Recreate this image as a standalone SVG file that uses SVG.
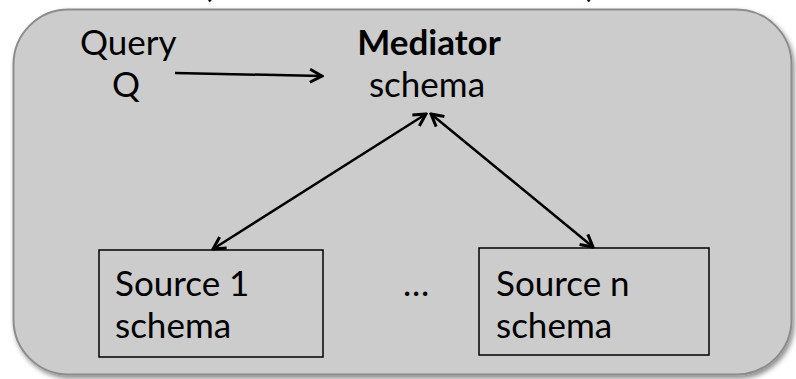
<svg xmlns="http://www.w3.org/2000/svg" width="796" height="379" viewBox="0 0 796 379">
<style>
text{font-family:"Lato","Liberation Sans",sans-serif;font-size:35px;fill:#000}
.b{font-weight:bold}
.box{fill:none;stroke:#000;stroke-width:1.5}
.con{fill:none;stroke:#000;stroke-width:2.5}
</style>
<defs>
<filter id="sh" x="-5%" y="-5%" width="110%" height="115%">
<feDropShadow dx="2" dy="3" stdDeviation="2.5" flood-color="#000" flood-opacity="0.45"/>
</filter>
<marker id="ah" viewBox="0 0 16 16" refX="14" refY="8" markerWidth="16" markerHeight="16" markerUnits="userSpaceOnUse" orient="auto-start-reverse">
<path d="M2,1.5 L14,8 L2,14.5" fill="none" stroke="#000" stroke-width="3" stroke-linejoin="miter"/>
</marker>
</defs>
<text x="203" y="-3">(</text>
<text x="586" y="-3">)</text>
<g id="container">
<rect x="13.5" y="9.5" width="778" height="365" rx="55" ry="55" fill="#cccccc" stroke="#8c8c8c" stroke-width="2" filter="url(#sh)"/>
</g>
<g id="query">
<text x="80" y="55">Query</text>
<text x="126" y="97" text-anchor="middle">Q</text>
</g>
<g id="mediator">
<text x="429" y="55" text-anchor="middle" class="b">Mediator</text>
<text x="427" y="97" text-anchor="middle">schema</text>
</g>
<g id="source1">
<rect class="box" x="99" y="250" width="224" height="107"/>
<text x="115" y="296">Source 1</text>
<text x="115" y="338">schema</text>
</g>
<g id="ellipsis">
<text x="403" y="296">…</text>
</g>
<g id="sourcen">
<rect class="box" x="479" y="248" width="230" height="107"/>
<text x="496" y="296">Source n</text>
<text x="496" y="338">schema</text>
</g>
<g id="connectors">
<line class="con" x1="175" y1="73" x2="322" y2="76" marker-end="url(#ah)"/>
<line class="con" x1="213" y1="249" x2="426" y2="114" marker-start="url(#ah)" marker-end="url(#ah)"/>
<line class="con" x1="431" y1="114" x2="593" y2="247" marker-start="url(#ah)" marker-end="url(#ah)"/>
</g>
</svg>
